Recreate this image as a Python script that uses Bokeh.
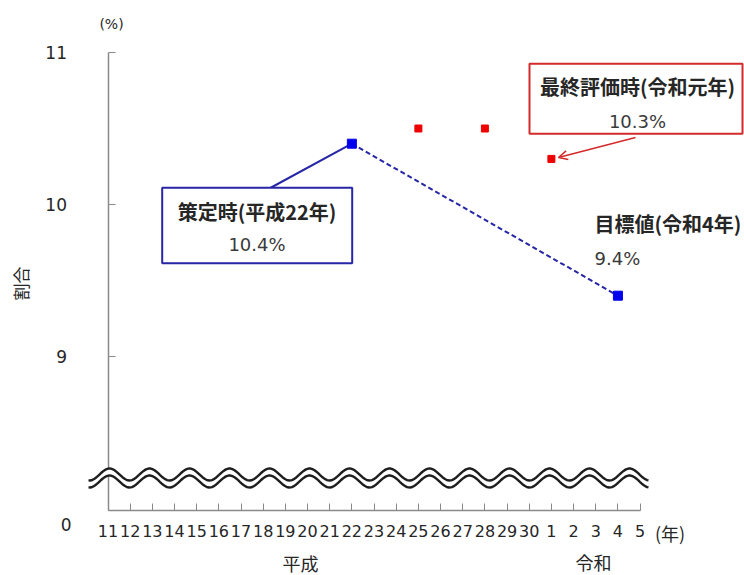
import numpy as np
from bokeh.plotting import figure
from bokeh.models import Range1d, FixedTicker, Label, BoxAnnotation, Arrow, OpenHead
from bokeh.embed import file_html
from bokeh.resources import INLINE

# Year axis: Heisei 11-30 followed by Reiwa 1-5
heisei_years = ["11", "12", "13", "14", "15", "16", "17", "18", "19", "20",
                "21", "22", "23", "24", "25", "26", "27", "28", "29", "30"]
reiwa_years = ["1", "2", "3", "4", "5"]
year_labels = heisei_years + reiwa_years

# Baseline (策定時), evaluation results and target (%)
baseline_year = ("平成", "22")
baseline_value = 10.4
eval_years = [("平成", "25"), ("平成", "28"), ("令和", "1")]
eval_values = [10.5, 10.5, 10.3]
final_value = 10.3
target_year = ("令和", "4")
target_value = 9.4

y_ticks = [9, 10, 11]


def year_index(era, year):
    if era == "平成":
        return heisei_years.index(year)
    return len(heisei_years) + reiwa_years.index(year)


# Pixel helpers for placing annotations (index 0 at x=107.5 px, 10% at y=204 px)
X0_PX, X_STEP = 107.5, 22.17
Y10_PX, Y_STEP = 204.0, 152.0


def dx(px):
    return (px - X0_PX) / X_STEP


def dy(py):
    return 10 + (Y10_PX - py) / Y_STEP


W, H = 744, 575
# The frame covers the whole canvas; both axes are pinned inside it
p = figure(width=W, height=H, output_backend="svg", toolbar_location=None,
           x_range=Range1d(dx(0), dx(W)), y_range=Range1d(dy(H), dy(0)),
           min_border=0, min_border_left=0, min_border_right=0,
           min_border_top=0, min_border_bottom=0)
p.outline_line_color = None
p.grid.visible = False
p.background_fill_color = "white"
p.border_fill_color = "white"

AXIS_COLOR = "#8a8a8a"
TEXT_COLOR = "#262626"
NUM_FONT = "DejaVu Sans"
JP_FONT = "Noto Sans CJK JP"
Y_BOTTOM = dy(510)

# x axis
xa = p.xaxis[0]
xa.fixed_location = Y_BOTTOM
xa.ticker = FixedTicker(ticks=list(range(len(year_labels))))
xa.major_label_overrides = {i: lab for i, lab in enumerate(year_labels)}
xa.bounds = (0, len(year_labels) - 1)
xa.axis_line_color = AXIS_COLOR
xa.axis_line_width = 1.5
xa.major_tick_line_color = AXIS_COLOR
xa.major_tick_in = 7
xa.major_tick_out = 0
xa.minor_tick_line_color = None
xa.major_label_standoff = 14
xa.major_label_text_font = NUM_FONT
xa.major_label_text_font_size = "16px"
xa.major_label_text_color = TEXT_COLOR

# y axis, drawn at the first year
ya = p.yaxis[0]
ya.fixed_location = 0
ya.ticker = FixedTicker(ticks=y_ticks)
ya.bounds = (Y_BOTTOM, y_ticks[-1])
ya.axis_line_color = AXIS_COLOR
ya.axis_line_width = 1.5
ya.major_tick_line_color = AXIS_COLOR
ya.major_tick_in = 7
ya.major_tick_out = 0
ya.minor_tick_line_color = None
ya.major_label_standoff = 41
ya.major_label_text_font = NUM_FONT
ya.major_label_text_font_size = "17px"
ya.major_label_text_color = TEXT_COLOR

# Axis break symbol (double wavy line with white gap)
wx = np.linspace(dx(88), dx(648), 400)
period = 40 / X_STEP
phase = dx(109)
upper = dy(474) + (6 / Y_STEP) * np.cos(2 * np.pi * (wx - phase) / period)
lower = upper - 7 / Y_STEP
p.varea(x=wx, y1=lower, y2=upper, fill_color="white", level="overlay")
p.line(wx, upper, line_color="#1e1e1e", line_width=2.4, level="overlay")
p.line(wx, lower, line_color="#1e1e1e", line_width=2.4, level="overlay")

bx = year_index(*baseline_year)
tx = year_index(*target_year)
ex = [year_index(*e) for e in eval_years]

BLUE_LINE = "#2626a6"
RED_LINE = "#d42a2a"

# Callout for the baseline
p.segment(x0=dx(267), y0=dy(189), x1=bx, y1=baseline_value, line_color=BLUE_LINE, line_width=2)
p.add_layout(BoxAnnotation(left=dx(161.7), right=dx(351.7), top=dy(187.3), bottom=dy(262.7),
                           fill_color="white", fill_alpha=1, line_color=BLUE_LINE,
                           line_alpha=1, line_width=2))

# Baseline -> target
p.line([bx, tx], [baseline_value, target_value], line_color=BLUE_LINE, line_width=2, line_dash="5 3")

# Callout for the final evaluation
p.add_layout(BoxAnnotation(left=dx(529), right=dx(742), top=dy(63.3), bottom=dy(133.3),
                           fill_color="white", fill_alpha=1, line_color=RED_LINE,
                           line_alpha=1, line_width=2))
p.add_layout(Arrow(end=OpenHead(size=9, line_color=RED_LINE, line_width=1.5),
                   x_start=dx(635), y_start=dy(137), x_end=dx(558), y_end=dy(157),
                   line_color=RED_LINE, line_width=1.5))

# Points
p.scatter(ex, eval_values, marker="square", size=7, color="#ee0000")
p.scatter([bx, tx], [baseline_value, target_value], marker="square", size=9, color="#0000ee")


def label(x, y, text, font, size, bold=False, align="center", angle=0.0, color=TEXT_COLOR):
    p.add_layout(Label(x=x, y=y, text=text, text_font=font, text_font_size=size,
                       text_font_style="bold" if bold else "normal", text_color=color,
                       text_align=align, text_baseline="middle", angle=angle))


VALUE_COLOR = "#3a3a3a"
label(dx(256.5), dy(211), "策定時(平成22年)", JP_FONT, "20px", bold=True)
label(dx(256.5), dy(244), f"{baseline_value:.1f}%", NUM_FONT, "18px", color=VALUE_COLOR)
label(dx(637), dy(86), "最終評価時(令和元年)", JP_FONT, "20px", bold=True)
label(dx(637), dy(121), f"{final_value:.1f}%", NUM_FONT, "18px", color=VALUE_COLOR)
label(dx(594), dy(223), "目標値(令和4年)", JP_FONT, "20px", bold=True, align="left")
label(dx(594), dy(258), f"{target_value:.1f}%", NUM_FONT, "18px", align="left", color=VALUE_COLOR)

# Axis texts
label(dx(111), dy(23), "(%)", NUM_FONT, "14px")
label(dx(20), dy(283), "割合", JP_FONT, "17px", angle=np.pi / 2)
label(dx(65.7), dy(524), "0", NUM_FONT, "17px")
label(dx(669.5), dy(532), "(年)", JP_FONT, "18px")
label(dx(300), dy(562), "平成", JP_FONT, "18px")
label(dx(593), dy(561), "令和", JP_FONT, "18px")

open("out.html", "w").write(file_html(p, INLINE))
